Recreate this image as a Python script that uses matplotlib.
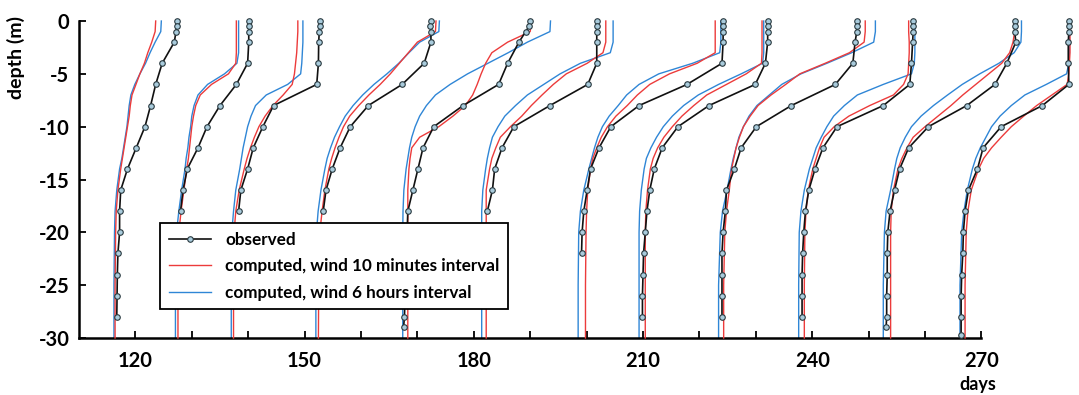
import matplotlib
matplotlib.use("Agg")
import matplotlib.pyplot as plt
from matplotlib.lines import Line2D

plt.rcParams["font.family"] = ["Lato", "DejaVu Sans"]

# observed profiles: depth levels (m) and position on the day axis
obs_depth = [
    [0, 0.5, 1, 2, 4, 6, 8, 10, 12, 14, 16, 18, 20, 22, 24, 26, 28],
    [0, 0.5, 1, 2, 4, 6, 8, 10, 12, 14, 16, 18],
    [0, 0.5, 1, 2, 4, 6, 8, 10, 12, 14, 16, 18],
    [0, 0.5, 1, 2, 4, 6, 8, 10, 12, 14, 16, 18],
    [0, 0.5, 1, 2, 4, 6, 8, 10, 12, 14, 16, 18, 28, 29],
    [0, 0.5, 1, 2, 4, 6, 8, 10, 12, 14, 16, 18],
    [0, 0.5, 1, 2, 4, 6, 8, 10, 12, 14, 16, 18, 20, 22],
    [0, 0.5, 1, 2, 4, 6, 8, 10, 12, 14, 16, 18, 20, 22, 24, 26, 28],
    [0, 0.5, 1, 2, 4, 6, 8, 10, 12, 14, 16, 18, 20, 22, 24, 26, 28],
    [0, 0.5, 1, 2, 4, 6, 8, 10, 12, 14, 16, 18, 20, 22, 24, 26, 28],
    [0, 0.5, 1, 2, 4, 6, 8, 10, 12, 14, 16, 18, 20, 22, 24, 26, 28, 29],
    [0, 0.5, 1, 2, 4, 6, 8, 10, 12, 14, 16, 18, 20, 22, 24, 26, 28, 29.7],
]
obs_x = [
    [127.45, 127.3, 127.2, 126.9, 124.75, 123.6, 122.7, 121.7, 120.15, 118.6, 117.4, 117.2, 117.2, 116.9, 116.8, 116.75, 116.7],
    [140.2, 140.2, 140.1, 140.1, 139.9, 137.9, 135.0, 132.7, 131.1, 129.2, 128.45, 128.0],
    [152.8, 152.8, 152.6, 152.5, 152.45, 152.15, 144.5, 142.6, 140.9, 139.9, 138.7, 138.3],
    [172.4, 172.3, 172.4, 172.4, 171.2, 167.3, 161.3, 158.1, 156.3, 154.9, 153.8, 153.3],
    [189.9, 189.8, 189.2, 188.0, 186.0, 184.4, 178.1, 172.9, 171.0, 170.1, 169.2, 168.3, 167.7, 167.55],
    [201.8, 201.8, 201.8, 201.8, 201.8, 200.2, 193.5, 187.1, 185.0, 183.7, 183.3, 182.4],
    [224.2, 224.2, 224.2, 224.2, 224.0, 217.8, 209.3, 204.3, 202.2, 200.7, 200.1, 199.5, 199.2, 199.1],
    [232.1, 232.1, 232.1, 232.1, 231.7, 229.9, 221.7, 216.2, 213.4, 212.0, 211.2, 210.7, 210.4, 210.1, 210.0, 209.9, 209.9],
    [247.9, 247.9, 247.9, 247.6, 247.2, 244.1, 236.3, 230.1, 227.4, 226.2, 224.8, 224.6, 224.2, 224.0, 224.0, 224.0, 224.0],
    [257.9, 257.9, 257.9, 257.8, 257.6, 257.3, 252.6, 244.4, 241.9, 240.5, 239.4, 238.8, 238.5, 238.3, 238.2, 238.2, 238.2],
    [275.9, 275.9, 275.9, 276.1, 274.5, 272.4, 267.4, 260.6, 257.1, 255.5, 254.6, 253.8, 253.4, 253.3, 253.3, 253.2, 253.2, 253.1],
    [285.5, 285.5, 285.5, 285.4, 285.4, 285.5, 280.8, 273.5, 270.3, 269.3, 267.7, 267.1, 266.8, 266.7, 266.5, 266.4, 266.4, 266.4],
]

# computed profiles, same depth grid for every profile
model_depth = [0, 1, 2, 3, 4, 5, 6, 7, 8, 9, 10, 11, 12, 13, 14, 16, 18, 20, 25, 30]

# wind every 10 minutes
red_x = [
    [123.6, 123.5, 122.9, 122.2, 121.6, 120.8, 120.1, 119.4, 119.1, 118.9, 118.6, 118.3, 118.0, 117.7, 117.4, 116.9, 116.6, 116.5, 116.4, 116.4],
    [137.9, 137.9, 137.9, 137.9, 137.8, 136.5, 133.5, 131.5, 130.7, 130.3, 130.0, 129.8, 129.6, 129.4, 129.1, 128.6, 128.1, 127.7, 127.55, 127.55],
    [148.8, 148.8, 148.7, 148.6, 148.4, 148.2, 147.8, 146.2, 144.4, 143.0, 141.9, 141.1, 140.4, 139.8, 139.3, 138.4, 137.8, 137.5, 137.4, 137.4],
    [173.3, 173.2, 170.0, 168.4, 166.8, 165.2, 163.4, 161.4, 159.6, 158.0, 156.9, 156.1, 155.4, 154.8, 154.3, 153.6, 153.1, 152.7, 152.5, 152.45],
    [190.2, 190.0, 186.0, 183.2, 182.1, 181.3, 180.6, 179.8, 178.5, 176.3, 173.8, 170.4, 169.0, 168.7, 168.5, 168.3, 168.3, 168.3, 168.3, 168.3],
    [203.4, 203.4, 203.4, 202.9, 200.1, 196.4, 194.1, 192.1, 190.2, 188.5, 186.5, 184.7, 183.9, 183.2, 182.8, 182.2, 182.2, 182.2, 182.2, 182.2],
    [222.8, 222.8, 222.8, 222.8, 219.6, 214.7, 211.2, 209.0, 207.2, 205.2, 203.7, 202.6, 201.8, 201.1, 200.7, 200.2, 200.0, 199.9, 199.8, 199.8],
    [231.1, 231.1, 231.1, 231.1, 231.0, 228.3, 224.8, 221.3, 219.0, 216.9, 215.2, 213.7, 212.6, 211.8, 211.3, 210.8, 210.5, 210.4, 210.4, 210.4],
    [249.4, 249.4, 249.2, 246.6, 242.3, 237.8, 235.3, 232.7, 230.4, 229.0, 227.8, 227.1, 226.5, 226.1, 225.7, 225.3, 224.8, 224.5, 224.3, 224.3],
    [257.1, 257.1, 257.2, 257.2, 257.1, 257.0, 256.2, 254.4, 250.2, 246.5, 243.9, 242.1, 241.3, 240.7, 240.1, 239.3, 238.9, 238.7, 238.6, 238.6],
    [276.1, 275.9, 275.6, 275.0, 273.6, 271.3, 269.0, 266.7, 264.6, 262.3, 260.0, 257.9, 256.8, 255.9, 255.2, 254.4, 254.0, 253.9, 253.9, 253.9],
    [285.7, 285.7, 285.7, 285.7, 285.6, 285.5, 285.2, 282.5, 279.8, 277.5, 275.3, 273.5, 271.8, 270.4, 269.5, 268.2, 267.6, 267.3, 267.1, 267.1],
]

# wind every 6 hours
blue_x = [
    [124.6, 124.5, 123.5, 122.6, 121.8, 120.8, 119.9, 119.2, 118.9, 118.7, 118.5, 118.2, 117.9, 117.6, 117.2, 116.7, 116.4, 116.3, 116.2, 116.2],
    [138.3, 138.3, 138.3, 138.3, 138.0, 135.8, 132.8, 131.1, 130.4, 130.0, 129.8, 129.5, 129.3, 129.0, 128.8, 128.2, 127.7, 127.3, 127.1, 127.1],
    [149.7, 149.7, 149.7, 149.6, 149.5, 149.3, 147.0, 143.2, 141.3, 140.5, 139.9, 139.5, 139.1, 138.8, 138.5, 137.8, 137.4, 137.1, 137.0, 137.0],
    [173.9, 173.8, 170.4, 168.5, 166.7, 164.6, 162.3, 160.3, 158.6, 157.2, 156.2, 155.3, 154.6, 154.0, 153.6, 152.9, 152.4, 152.1, 152.0, 152.0],
    [193.6, 193.5, 189.5, 186.1, 182.5, 178.9, 175.8, 173.2, 171.6, 170.4, 169.6, 169.0, 168.6, 168.3, 168.0, 167.6, 167.45, 167.4, 167.4, 167.4],
    [204.7, 204.7, 204.7, 204.2, 198.9, 195.3, 192.4, 189.5, 187.4, 185.5, 184.3, 183.3, 182.8, 182.4, 182.1, 181.6, 181.4, 181.4, 181.4, 181.4],
    [223.8, 223.8, 223.8, 223.6, 218.8, 212.8, 209.3, 207.1, 205.6, 204.0, 202.8, 202.0, 201.4, 200.9, 200.4, 199.5, 198.9, 198.6, 198.5, 198.5],
    [231.4, 231.4, 231.4, 231.4, 231.2, 227.4, 223.4, 219.8, 217.2, 215.2, 213.6, 212.4, 211.4, 210.6, 210.2, 209.7, 209.4, 209.3, 209.3, 209.3],
    [251.2, 251.2, 250.9, 247.0, 242.6, 238.0, 234.6, 232.4, 230.2, 228.8, 227.8, 227.0, 226.5, 226.0, 225.6, 224.9, 224.1, 223.7, 223.4, 223.4],
    [258.2, 258.2, 258.2, 258.2, 258.1, 257.6, 252.6, 248.0, 245.7, 243.8, 242.6, 241.6, 240.7, 240.1, 239.5, 238.6, 238.0, 237.7, 237.6, 237.6],
    [277.1, 277.1, 277.0, 275.8, 273.1, 269.7, 266.6, 264.0, 261.5, 259.3, 257.6, 256.5, 255.6, 255.0, 254.6, 253.9, 253.1, 252.8, 252.6, 252.6],
    [285.6, 285.6, 285.6, 285.6, 285.5, 285.1, 281.5, 277.7, 275.3, 273.3, 271.8, 270.8, 269.8, 269.0, 268.4, 267.5, 266.9, 266.5, 266.2, 266.2],
]

x_ticks = list(range(120, 271, 10))
x_labels = [str(t) if t % 30 == 0 else "" for t in x_ticks]
y_ticks = [0, -5, -10, -15, -20, -25, -30]

RED = "#ec3b3b"
BLUE = "#2f86d6"
MFACE = "#a9cbdc"

fig = plt.figure(figsize=(10.79, 3.95), dpi=100)
ax = fig.add_axes([0.0732, 0.1443, 0.9268, 0.8025])

neg_model = [-d for d in model_depth]
for i in range(len(obs_x)):
    ax.plot(blue_x[i], neg_model, color=BLUE, lw=1.0, clip_on=False, zorder=2)
    ax.plot(red_x[i], neg_model, color=RED, lw=1.0, clip_on=False, zorder=3)
    ax.plot(obs_x[i], [-d for d in obs_depth[i]], color="#111111", lw=1.2,
            marker="o", ms=4, mfc=MFACE, mec="#2a3a40", mew=0.8,
            clip_on=False, zorder=4)

ax.set_xlim(110, 287.3)
ax.set_ylim(-30, 0)
ax.spines["top"].set_visible(False)
ax.spines["right"].set_visible(False)
ax.spines["left"].set_linewidth(1.8)
ax.spines["bottom"].set_linewidth(1.8)
ax.spines["left"].set_bounds(-30, 0)
ax.spines["bottom"].set_bounds(110, 270)

ax.set_xticks(x_ticks)
ax.set_xticklabels(x_labels)
ax.set_yticks(y_ticks)
ax.set_yticklabels([str(t) for t in y_ticks])
ax.tick_params(direction="in", length=5, width=1.3, labelsize=14.5)
ax.tick_params(axis="x", pad=9)
ax.tick_params(axis="y", pad=7)
for lab in ax.get_xticklabels() + ax.get_yticklabels():
    lab.set_fontweight("bold")

fig.text(0.015, 0.855, "depth (m)", rotation=90, ha="center", va="center",
         fontsize=14, fontweight="bold")
fig.text(0.906, 0.006, "days", ha="center", va="bottom",
         fontsize=13, fontweight="bold")

handles = [
    Line2D([], [], color="#111111", lw=1.2, marker="o", ms=4, mfc=MFACE,
           mec="#2a3a40", mew=0.8),
    Line2D([], [], color=RED, lw=1.0),
    Line2D([], [], color=BLUE, lw=1.0),
]
labels = ["observed", "computed, wind 10 minutes interval",
          "computed, wind 6 hours interval"]
leg = ax.legend(handles, labels, loc="upper left", bbox_to_anchor=(0.081, 0.3628),
                borderaxespad=0, fancybox=False, framealpha=1, edgecolor="black",
                prop={"size": 12.3, "weight": "bold"}, handlelength=2.5,
                labelspacing=0.62, borderpad=0.5, handletextpad=0.8)
leg.get_frame().set_linewidth(1.3)
leg.set_zorder(10)

fig.savefig("out.png", dpi=100)
